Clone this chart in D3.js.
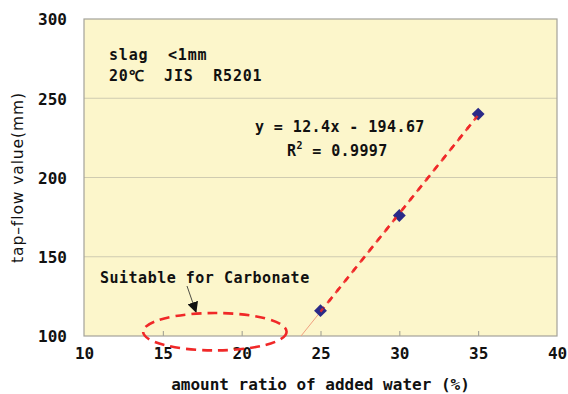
<!DOCTYPE html>
<html>
<head>
<meta charset="utf-8">
<script src="https://cdn.jsdelivr.net/npm/d3@7"></script>
<style>
  html, body { margin: 0; padding: 0; background: #ffffff; }
  svg text { font-family: "DejaVu Sans Mono", "Liberation Mono", monospace; white-space: pre; }
  svg text.sans { font-family: "DejaVu Sans", "Liberation Sans", sans-serif; }
</style>
</head>
<body>
<svg id="chart" width="568" height="394"></svg>
<script>
// Water ratio (%) vs tap-flow value (mm)
const waterRatio = [25, 30, 35];
const tapFlow = [116, 176, 240];
const xTicks = [10, 15, 20, 25, 30, 35, 40];
const yTicks = [100, 150, 200, 250, 300];
const fitSlope = 12.4;
const fitIntercept = -194.67;
const fitR2 = 0.9997;
// region marked as suitable (centre and half-extents in data units)
const suitableRegion = { cx: 18.3, cy: 102.7, rx: 4.55, ry: 11.8 };
const notes = ["slag  <1mm", "20\u2103  JIS  R5201"];

const svg = d3.select("#chart");
const margin = { left: 84, right: 11, top: 19, bottom: 58 };
const W = 568, H = 394;
const x = d3.scaleLinear().domain([10, 40]).range([margin.left, W - margin.right]);
const y = d3.scaleLinear().domain([100, 300]).range([H - margin.bottom, margin.top]);

// plot background
svg.append("rect")
  .attr("x", x(10)).attr("y", y(300))
  .attr("width", x(40) - x(10)).attr("height", y(100) - y(300))
  .attr("fill", "#fcf6cb");

// horizontal gridlines
svg.append("g").selectAll("line")
  .data(yTicks.filter(d => d > 100 && d < 300))
  .join("line")
  .attr("x1", x(10)).attr("x2", x(40))
  .attr("y1", d => y(d)).attr("y2", d => y(d))
  .attr("stroke", "#cfcbb0").attr("stroke-width", 1.2);

// axes
const xAxis = d3.axisBottom(x).tickValues(xTicks).tickSize(-5).tickPadding(12).tickFormat(d3.format("d"));
const yAxis = d3.axisLeft(y).tickValues(yTicks).tickSize(0).tickPadding(17).tickFormat(d3.format("d"));

const gx = svg.append("g").attr("transform", `translate(0,${y(100)})`).call(xAxis);
const gy = svg.append("g").attr("transform", `translate(${x(10)},0)`).call(yAxis);
[gx, gy].forEach(g => {
  g.select(".domain").remove();
  g.selectAll(".tick line").attr("stroke", "#9a9a90");
  g.selectAll(".tick text")
    .attr("fill", "#111")
    .attr("font-size", 16)
    .attr("font-weight", "bold");
});
gx.selectAll(".tick text").attr("dy", "0.71em");
gy.selectAll(".tick text").attr("dy", "0.36em");
gx.selectAll(".tick").filter(d => d === 10 || d === 40).select("line").remove();

// plot border
svg.append("rect")
  .attr("x", x(10)).attr("y", y(300))
  .attr("width", x(40) - x(10)).attr("height", y(100) - y(300))
  .attr("fill", "none").attr("stroke", "#a3a29a").attr("stroke-width", 1.2);

// axis titles
svg.append("text")
  .attr("x", (x(10) + x(40)) / 2).attr("y", 390)
  .attr("text-anchor", "middle")
  .attr("font-size", 16).attr("font-weight", "bold")
  .attr("fill", "#111")
  .text("amount ratio of added water (%)");

svg.append("text")
  .attr("class", "sans")
  .attr("transform", `translate(23,${(y(100) + y(300)) / 2}) rotate(-90)`)
  .attr("text-anchor", "middle")
  .attr("font-size", 15.5)
  .attr("letter-spacing", 0.9)
  .attr("fill", "#111")
  .text("tap\u2013flow value(mm)");

// backward extension of the fit down to the axis
const xAtAxis = (100 - fitIntercept) / fitSlope;
svg.append("line")
  .attr("x1", x(xAtAxis)).attr("y1", y(100))
  .attr("x2", x(waterRatio[0])).attr("y2", y(fitSlope * waterRatio[0] + fitIntercept))
  .attr("stroke", "#f0a080").attr("stroke-width", 1);

// linear fit across the measured range
const x0 = waterRatio[0], x1 = waterRatio[waterRatio.length - 1];
svg.append("line")
  .attr("x1", x(x0)).attr("y1", y(fitSlope * x0 + fitIntercept))
  .attr("x2", x(x1)).attr("y2", y(fitSlope * x1 + fitIntercept))
  .attr("stroke", "#f02828").attr("stroke-width", 2.6)
  .attr("stroke-dasharray", "6,7");

// measured points
svg.append("g").selectAll("path")
  .data(waterRatio.map((d, i) => [d, tapFlow[i]]))
  .join("path")
  .attr("transform", d => `translate(${x(d[0])},${y(d[1])})`)
  .attr("d", d3.symbol(d3.symbolDiamond2, 105)())
  .attr("fill", "#2a2a88");

// fit re-drawn over the markers
svg.append("line")
  .attr("x1", x(x0)).attr("y1", y(fitSlope * x0 + fitIntercept))
  .attr("x2", x(x1)).attr("y2", y(fitSlope * x1 + fitIntercept))
  .attr("stroke", "#f02828").attr("stroke-width", 2.4)
  .attr("stroke-dasharray", "6,7").attr("stroke-dashoffset", 2)
  .attr("opacity", 0.85);

// fit equation
svg.append("text")
  .attr("x", 255).attr("y", 132)
  .attr("font-size", 15).attr("font-weight", "bold").attr("letter-spacing", 0.4)
  .attr("fill", "#111")
  .text(`y = ${fitSlope}x - ${Math.abs(fitIntercept)}`);
const r2 = svg.append("text")
  .attr("x", 287).attr("y", 156)
  .attr("font-size", 15).attr("font-weight", "bold").attr("letter-spacing", 0.4)
  .attr("fill", "#111");
r2.append("tspan").text("R");
r2.append("tspan").attr("dy", -7).attr("font-size", 10).text("2");
r2.append("tspan").attr("dy", 7).text(` = ${fitR2}`);

// notes in the top-left corner
svg.append("g").selectAll("text")
  .data(notes)
  .join("text")
  .attr("x", 109).attr("y", (d, i) => 60 + i * 21)
  .attr("font-size", 15).attr("font-weight", "bold").attr("letter-spacing", 0.8)
  .attr("fill", "#111")
  .text(d => d);

// suitable region label, arrow and dashed ellipse
svg.append("text")
  .attr("x", 100).attr("y", 283)
  .attr("font-size", 15).attr("font-weight", "bold").attr("letter-spacing", 0.5)
  .attr("fill", "#111")
  .text("Suitable for Carbonate");

svg.append("defs").append("marker")
  .attr("id", "arrowHead")
  .attr("viewBox", "0 0 10 10").attr("refX", 9).attr("refY", 5)
  .attr("markerWidth", 11).attr("markerHeight", 11)
  .attr("markerUnits", "userSpaceOnUse")
  .attr("orient", "auto")
  .append("path").attr("d", "M0,0 L10,5 L0,10 Z").attr("fill", "#111");

svg.append("line")
  .attr("x1", 187).attr("y1", 286).attr("x2", 196).attr("y2", 312)
  .attr("stroke", "#222").attr("stroke-width", 0.8)
  .attr("marker-end", "url(#arrowHead)");

svg.append("ellipse")
  .attr("cx", x(suitableRegion.cx)).attr("cy", y(suitableRegion.cy))
  .attr("rx", x(suitableRegion.cx + suitableRegion.rx) - x(suitableRegion.cx))
  .attr("ry", y(suitableRegion.cy - suitableRegion.ry) - y(suitableRegion.cy))
  .attr("fill", "none").attr("stroke", "#f02828").attr("stroke-width", 2.6)
  .attr("stroke-dasharray", "10,6");
</script>
</body>
</html>
